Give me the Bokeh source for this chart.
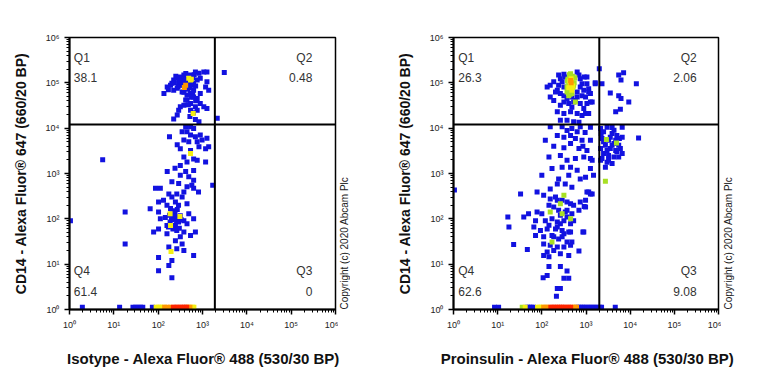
import numpy as np
from bokeh.plotting import figure
from bokeh.models import ColumnDataSource, Span, Label, FixedTicker, CustomJSTickFormatter, Range1d
from bokeh.layouts import row, column
from bokeh.embed import file_html
from bokeh.resources import INLINE

# ---------------- shared ----------------
y_title = "CD14 - Alexa Fluor® 647 (660/20 BP)"
iso_x_title = "Isotype - Alexa Fluor® 488 (530/30 BP)"
pro_x_title = "Proinsulin - Alexa Fluor® 488 (530/30 BP)"
copyright_text = "Copyright (c) 2020 Abcam Plc"
decades = [1, 10, 100, 1000, 10000, 100000, 1000000]
quadrant_names = ["Q1", "Q2", "Q3", "Q4"]
ZERO_EVENT_Y = 1.12  # events at/below axis minimum

COLORS = {"b": "#1212e0", "g": "#a8e024", "y": "#f4ee12", "o": "#ff9800", "r": "#ff2600"}

# ---------------- Isotype panel ----------------
iso_pct = ["38.1", "0.48", "0", "61.4"]
iso_gate_x = 1900
iso_gate_y = 12000

iso_q1_x = [692,1070,1260,380,316,269,224,204,160,135,269,316,631,759,891,1175,1380,1260,537,631,759,447,380,537,692,891,1070,1260,316,290,537,759,269,224,832,692,447,537,380,290,447,347,631,447,832,575,224,891,417,
            350,420,480,560,600,400,330,460,520,700,380,600,500,650,420,300,560,700,480,620,520,
            190,250,170,280,230]
iso_q1_y = [174000,174000,174000,148000,135000,126000,115000,98000,81000,58000,76000,89000,98000,115000,126000,81000,69000,105000,58000,49000,45000,42000,32000,35000,29500,35000,29500,27000,29500,25000,25000,25000,19500,16000,13800,15500,115000,148000,115000,98000,81000,63000,69000,54000,162000,89000,69000,58000,42000,
            105000,100000,95000,110000,130000,120000,90000,72000,78000,85000,62000,60000,135000,150000,160000,110000,48000,40000,33000,22000,18000,
            88000,140000,70000,82000,100000]
iso_q2_x = [3100, 2150]
iso_q2_y = [170000, 16600]
iso_mid_x = [417,537,631,447,347,537,692,891,380,490,759,977,1260,269,316,537,832,1175,1380,380,631,447,759,1175,316,180,240,417,631,160,316,490,631,204,290,447,575,87,112,631,1700]
iso_mid_y = [10700,10700,9800,8300,8300,7100,6500,7100,5500,5000,5000,5500,6000,4300,3500,3200,3900,3500,3900,2300,2100,1800,1950,1800,1500,6500,1300,1100,1170,1100,910,850,710,660,600,510,550,470,470,470,550]
iso_low_x = [174,263,380,813,204,347,132,245,447,102,158,288,66,102,204,316,490,145,224,380,631,112,186,288,158,245,447,102,79,158,263,380,692,537,316,245,347,174,263,380,102,631,204,174,102,204,18,18,
             180,215,260,200,240,280,230,190,170,300,330,260,215,270,1.05,5.6]
iso_low_y = [355,355,389,389,302,302,257,234,214,234,200,200,166,141,129,117,129,107,100,91,100,100,85,85,71,71,78,60,51,47,55,51,51,43,40,33,28,24,22,20,14,15.5,12,9.3,7.2,5,141,28,
             120,110,112,95,125,90,150,170,66,62,95,88,60,160,91,2000]
iso_yellow_x = [490,537,560,617,537,186,309,190,195]
iso_yellow_y = [126000,115000,120000,21000,2750,129,112,71,19]
iso_orange_x = [417,390]
iso_orange_y = [89000,79000]
iso_floor_x = [1.95,13.5,27,31,35,40,45,74, 90,100,112,125,600,640, 140,160,190,480,520, 220,250,280,320,360,400,440]
iso_floor_lvl = list("bbbbbbbb" "yyyyyy" "ooooo" "rrrrrrr")

# ---------------- Proinsulin panel ----------------
pro_pct = ["26.3", "2.06", "9.08", "62.6"]
pro_gate_x = 2000
pro_gate_y = 12000

pro_q1_x = [240,316,631,1050,132,155,186,224,263,316,741,813,631,891,1150,977,1260,1380,1620,316,407,525,741,891,224,316,447,631,813,1150,372,525,692,263,186,155,479,575,
            263,339,288,692,741,240,316,631,813,372,1050,204,263,479,1050,910,1620,1260,1150,977]
pro_q1_y = [148000,155000,174000,135000,81000,89000,105000,69000,58000,81000,123000,95000,63000,69000,74000,49000,58000,38000,95000,38000,35000,38000,35000,27000,23000,21000,23000,21000,19000,21000,15000,13800,13500,15000,41000,49000,49000,41000,
            123000,135000,105000,148000,81000,89000,52000,49000,52000,45000,95000,63000,32000,29000,35000,135000,100000,38000,63000,21000]
pro_q2_x = [2000,5500,7100,6200,13800,2300,3550,5500,6200,9300,4700,6000]
pro_q2_y = [204000,148000,166000,115000,95000,95000,60000,52000,45000,38000,23000,26000]
pro_q3_x = [2140,3000,3900,6600,2500,3900,5000,6600,2300,3240,4300,5500,2750,2140,3550,4700,6000,2500,3240,4300,5500,2300,3000,3900,2750,2140,6600,15500,3550,4700,3000,5000,2500,3900,3240,4300,5700,2200]
pro_q3_y = [9800,10500,10300,10500,8300,7600,6900,6300,5900,5400,4600,4200,4200,3550,3550,3200,3550,2750,2500,2300,2300,2140,1780,1660,1380,1950,2750,6100,6300,5400,3200,3000,5000,4200,1950,9000,5900,7600]
pro_mid_x = [155,288,372,479,631,741,120,224,316,447,575,813,186,316,447,692,1050,145,263,372,575,891,1380,170,288,447,631,1260,100,240,407,741,224,339,479,155,1480,
             1260,977,1150,1380,977,912,851,955,1260,1260,850]
pro_mid_y = [10700,10700,8900,9800,8300,10700,5400,6900,6300,6900,5900,5400,4000,3700,4600,3550,3200,2300,2500,1950,2140,2300,1950,1290,1380,1380,1175,1290,910,760,910,760,590,590,500,457,910,
             2140,830,390,355,257,186,51,8000,10500,5400,4000]
pro_low_x = [1050,1260,33,78,110,155,204,288,372,525,741,977,145,240,339,479,692,78,100,50,39,72,120,170,224,316,447,18,66,93,132,204,288,407,891,72,110,170,240,372,479,110,155,224,316,447,23,47,132,186,263,407,692,110,145,145,263,372,107,132,316,407,224,263,214,17,
             186,263,372,224,316,447,186,263,525,372,224,447,288,145,1.05]
pro_low_y = [389,355,355,389,331,275,302,257,234,200,234,182,200,155,141,129,155,141,129,129,110,91,91,100,85,91,78,66,66,55,60,60,55,51,51,43,40,43,36,31,31,28,26,24,24,26,27,21,18.6,20,17,15.5,19.5,15.5,14.5,8.9,8.9,7.1,5,5.6,4.9,4.9,2.9,2.9,1.95,110,
             182,120,110,66,47,51,40,78,91,155,257,214,40,72,430]
pro_green_x = [447,479,407,447,372,479,525,407,575,447,372,2900,4900,2750,316,263,155,288,447,170,
               420,500,390,460,540,430,400,510,470,440,380,560]
pro_green_y = [135000,115000,95000,74000,63000,58000,89000,52000,38000,158000,81000,5600,4700,676,331,214,141,129,100,31,
               150000,140000,120000,105000,100000,88000,70000,80000,62000,56000,110000,130000]
pro_yellow_x = [407,479,460,440,430,500]
pro_yellow_y = [78000,69000,123000,92000,110000,85000]
pro_orange_x = [460,450]
pro_orange_y = [100000,112000]
pro_floor_x = [8.5,10.5,47,52,58,65,660,740,830,930,1050,1200,1350,1550,1750,2050,2250,4600, 36, 42,80,90,100, 110,125,140,500,560,610, 160,180,200,225,250,280,310,350,400,450]
pro_floor_lvl = list("b" * 18 + "g" + "yyyy" + "oooooo" + "r" * 10)


def build_source(blue_groups, green, yellow, orange, floor_x, floor_lvl):
    xs, ys, cs = [], [], []
    for gx, gy in blue_groups:
        xs += gx; ys += gy; cs += [COLORS["b"]] * len(gx)
    for lvl in "bgyor":
        fx = [x for x, l in zip(floor_x, floor_lvl) if l == lvl]
        xs += fx; ys += [ZERO_EVENT_Y] * len(fx); cs += [COLORS[lvl]] * len(fx)
        extra = {"g": green, "y": yellow, "o": orange}.get(lvl)
        if extra:
            xs += extra[0]; ys += extra[1]; cs += [COLORS[lvl]] * len(extra[0])
    return ColumnDataSource(dict(x=xs, y=ys, c=cs))


FONT = "Liberation Sans"
TOP, FRAME_H, BOTTOM = 37, 272, 30
STRIP_H = 40
TOTAL_W = 735


def make_panel(src, gate_x, gate_y, pct, bl, fw, br, q1_x, q2_x):
    p = figure(x_axis_type="log", y_axis_type="log",
               x_range=Range1d(1, 1e6), y_range=Range1d(1, 1e6),
               frame_width=fw, frame_height=FRAME_H,
               min_border_left=bl, min_border_right=br, min_border_top=TOP, min_border_bottom=BOTTOM,
               output_backend="svg", toolbar_location=None,
               background_fill_color="white", border_fill_color="white")
    p.grid.visible = False
    p.outline_line_color = "black"
    p.outline_line_width = 1.5
    p.outline_line_alpha = 1

    fmt = CustomJSTickFormatter(code="""
        const e = Math.round(Math.log10(tick));
        const s = ['\u2070','\u00b9','\u00b2','\u00b3','\u2074','\u2075','\u2076'];
        return '10' + s[e];
    """)
    minors = [m * d for d in decades[:-1] for m in range(2, 10)]
    for ax in (p.xaxis[0], p.yaxis[0]):
        ax.ticker = FixedTicker(ticks=decades, minor_ticks=minors)
        ax.formatter = fmt
        ax.axis_line_width = 2
        ax.axis_line_color = "black"
        ax.major_tick_out = 5
        ax.major_tick_in = 0
        ax.minor_tick_out = 3
        ax.minor_tick_in = 0
        ax.major_tick_line_width = 1.5
        ax.major_tick_line_color = "black"
        ax.minor_tick_line_color = "black"
        ax.major_label_text_font = FONT
        ax.major_label_text_font_size = "9px"
        ax.major_label_text_color = "#222222"
        ax.major_label_standoff = 5
        ax.axis_label_text_font = FONT
        ax.axis_label_text_font_style = "bold"
        ax.axis_label_text_color = "#111111"
    p.yaxis.axis_label = y_title
    p.yaxis.axis_label_text_font_size = "14px"
    p.yaxis.axis_label_standoff = 14

    p.scatter("x", "y", source=src, marker="square", size=5,
              fill_color="c", line_color=None)

    p.add_layout(Span(location=gate_x, dimension="height", line_color="black", line_width=2))
    p.add_layout(Span(location=gate_y, dimension="width", line_color="black", line_width=2))

    qstyle = dict(text_font=FONT, text_font_size="12px", text_color="#333333", text_baseline="middle")
    p.add_layout(Label(x=q1_x, y=3.6e5, text=quadrant_names[0], text_align="left", **qstyle))
    p.add_layout(Label(x=q1_x, y=1.32e5, text=pct[0], text_align="left", **qstyle))
    p.add_layout(Label(x=q2_x, y=3.6e5, text=quadrant_names[1], text_align="right", **qstyle))
    p.add_layout(Label(x=q2_x, y=1.32e5, text=pct[1], text_align="right", **qstyle))
    p.add_layout(Label(x=q2_x, y=6.9, text=quadrant_names[2], text_align="right", **qstyle))
    p.add_layout(Label(x=q2_x, y=2.5, text=pct[2], text_align="right", **qstyle))
    p.add_layout(Label(x=q1_x, y=6.9, text=quadrant_names[3], text_align="left", **qstyle))
    p.add_layout(Label(x=q1_x, y=2.5, text=pct[3], text_align="left", **qstyle))
    return p


def make_copyright(fw):
    c = figure(x_range=Range1d(0, 1), y_range=Range1d(0, 1),
               frame_width=fw, frame_height=FRAME_H,
               min_border_left=0, min_border_right=0, min_border_top=TOP, min_border_bottom=BOTTOM,
               x_axis_location=None, y_axis_location=None,
               output_backend="svg", toolbar_location=None,
               background_fill_color="white", border_fill_color="white",
               outline_line_color=None)
    c.grid.visible = False
    c.add_layout(Label(x=0.5, y=0, text=copyright_text, angle=np.pi / 2,
                       text_align="left", text_baseline="middle",
                       text_font=FONT, text_font_size="10px", text_color="#222222"))
    return c


def make_title_strip(centres, titles):
    s = figure(x_range=Range1d(0, TOTAL_W), y_range=Range1d(0, STRIP_H),
               frame_width=TOTAL_W, frame_height=STRIP_H,
               min_border_left=0, min_border_right=0, min_border_top=0, min_border_bottom=0,
               x_axis_location=None, y_axis_location=None,
               output_backend="svg", toolbar_location=None,
               background_fill_color="white", border_fill_color="white",
               outline_line_color=None)
    s.grid.visible = False
    for cx, t in zip(centres, titles):
        s.add_layout(Label(x=cx, y=STRIP_H - 19, text=t, text_align="center", text_baseline="middle",
                           text_font=FONT, text_font_style="bold", text_font_size="15px",
                           text_color="#111111"))
    return s


iso_src = build_source([(iso_q1_x, iso_q1_y), (iso_q2_x, iso_q2_y), (iso_mid_x, iso_mid_y), (iso_low_x, iso_low_y)],
                       None, (iso_yellow_x, iso_yellow_y), (iso_orange_x, iso_orange_y),
                       iso_floor_x, iso_floor_lvl)
pro_src = build_source([(pro_q1_x, pro_q1_y), (pro_q2_x, pro_q2_y), (pro_q3_x, pro_q3_y), (pro_mid_x, pro_mid_y), (pro_low_x, pro_low_y)],
                       (pro_green_x, pro_green_y), (pro_yellow_x, pro_yellow_y), (pro_orange_x, pro_orange_y),
                       pro_floor_x, pro_floor_lvl)

# frame 1: x 69..335, copyright ~344, frame 2: x 453..718, copyright ~728
p1 = make_panel(iso_src, iso_gate_x, iso_gate_y, iso_pct, 69, 266, 3, 1.25, 3.0e5)
c1 = make_copyright(12)
p2 = make_panel(pro_src, pro_gate_x, pro_gate_y, pro_pct, 103, 265, 3, 1.28, 3.2e5)
c2 = make_copyright(14)
strip = make_title_strip([203, 587], [iso_x_title, pro_x_title])

layout = column(row(p1, c1, p2, c2), strip)
open("out.html", "w").write(file_html(layout, INLINE))
